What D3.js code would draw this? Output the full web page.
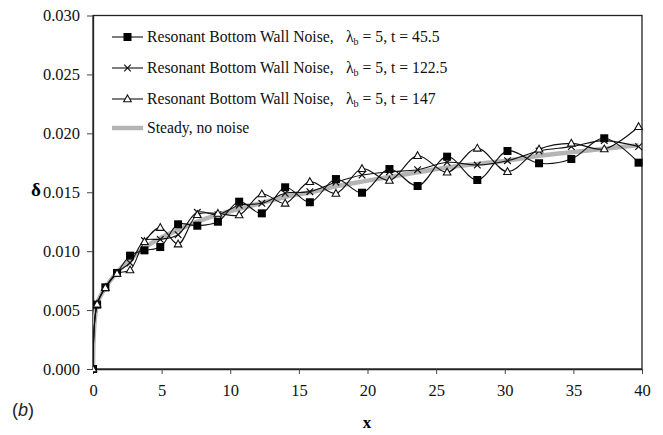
<!DOCTYPE html>
<html><head><meta charset="utf-8">
<script src="https://cdn.jsdelivr.net/npm/d3@7"></script>
<style>body{margin:0;background:#fff}svg{display:block}</style>
</head><body><svg id="c" width="663" height="435"></svg>
<script>
const xs = [0,0.3,0.9,1.75,2.7,3.75,4.9,6.2,7.6,9.1,10.65,12.3,14.0,15.8,17.7,19.6,21.6,23.65,25.8,28.0,30.2,32.5,34.85,37.25,39.75];
const t455 = [0,0.00546,0.00693,0.00815,0.00962,0.01007,0.01035,0.01228,0.01216,0.0125,0.0142,0.01321,0.01542,0.01415,0.01612,0.01496,0.01697,0.01553,0.01802,0.01604,0.0185,0.01746,0.01782,0.01958,0.01751];
const t1225 = [0,0.0055,0.0069,0.0082,0.0090,0.0109,0.0110,0.0114,0.0133,0.0131,0.0139,0.01406,0.01491,0.01505,0.01585,0.01646,0.01674,0.01691,0.01754,0.01731,0.01768,0.0185,0.01887,0.01938,0.01887];
const t147 = [0,0.0055,0.0069,0.0081,0.0084,0.0108,0.0120,0.0106,0.0131,0.0132,0.01307,0.01485,0.01406,0.0159,0.0149,0.0170,0.0160,0.0181,0.0167,0.01873,0.01674,0.01865,0.01915,0.01867,0.02056];
const steady = [0,0.0055,0.0069,0.0082,0.0093,0.0103,0.0111,0.0118,0.0125,0.0131,0.0136,0.0141,0.0146,0.0150,0.0155,0.0159,0.0163,0.0167,0.0171,0.0174,0.0177,0.0181,0.0184,0.0187,0.0190];
const xTicks = [0,5,10,15,20,25,30,35,40];
const yTicks = [0,0.005,0.010,0.015,0.020,0.025,0.030];
const legendNames = ["Resonant Bottom Wall Noise,","Resonant Bottom Wall Noise,","Resonant Bottom Wall Noise,","Steady, no noise"];
const legendTimes = ["45.5","122.5","147"];

const svg = d3.select("#c");
const L=93,R=642,T=15.5,B=369;
const x = d3.scaleLinear().domain([0,40]).range([L,R]);
const y = d3.scaleLinear().domain([0,0.03]).range([B,T]);
const serif = "Liberation Serif, Times New Roman, serif";

svg.append("rect").attr("x",L).attr("y",T).attr("width",R-L).attr("height",B-T)
  .attr("fill","none").attr("stroke","#222").attr("stroke-width",1.3);

const xa = svg.append("g").attr("transform",`translate(0,${B})`)
  .call(d3.axisBottom(x).tickValues(xTicks).tickSize(5).tickSizeOuter(0).tickPadding(10).tickFormat(d3.format("d")));
const ya = svg.append("g").attr("transform",`translate(${L},0)`)
  .call(d3.axisLeft(y).tickValues(yTicks).tickSize(6).tickSizeOuter(0).tickPadding(7).tickFormat(d3.format(".3f")));
[xa,ya].forEach(a=>{
  a.attr("font-family",serif).attr("font-size",16.5);
  a.selectAll("path").attr("stroke","#222").attr("stroke-width",1.3);
  a.selectAll("line").attr("stroke","#444");
  a.selectAll("text").style("font-family",serif).attr("font-size",16.5).attr("fill","#111");
});

svg.append("clipPath").attr("id","cp").append("rect").attr("x",L).attr("y",T-5).attr("width",R-L+4).attr("height",B-T+10);
const g = svg.append("g").attr("clip-path","url(#cp)");

const pts = arr => xs.map((v,i)=>[v,arr[i]]);
const smooth = d3.line().x(d=>x(d[0])).y(d=>y(d[1])).curve(d3.curveCatmullRom.alpha(0.5));

g.append("path").attr("d",smooth(pts(steady))).attr("fill","none").attr("stroke","#b4b4b4").attr("stroke-width",4.5);

const series=[t455,t1225,t147];
series.forEach(s=>{
  g.append("path").attr("d",smooth(pts(s))).attr("fill","none").attr("stroke","#111").attr("stroke-width",1.1);
});

function marker(sel, type, cx, cy){
  if(type===0){
    sel.append("rect").attr("x",cx-4).attr("y",cy-4).attr("width",8).attr("height",8).attr("fill","#000");
  } else if(type===1){
    sel.append("path").attr("d",`M${cx-3.3},${cy-3.3}L${cx+3.3},${cy+3.3}M${cx-3.3},${cy+3.3}L${cx+3.3},${cy-3.3}`).attr("stroke","#111").attr("stroke-width",1.2);
  } else {
    sel.append("path").attr("d",`M${cx},${cy-4}L${cx+3.8},${cy+2.8}L${cx-3.8},${cy+2.8}Z`).attr("fill","#fff").attr("stroke","#111").attr("stroke-width",1.1);
  }
}
series.forEach((s,k)=>{
  pts(s).forEach(d=>marker(g,k,x(d[0]),y(d[1])));
});

const ly=[37,68,99,128];
legendNames.forEach((n,i)=>{
  const lg = svg.append("g");
  if(i<3){
    lg.append("line").attr("x1",112).attr("x2",143).attr("y1",ly[i]).attr("y2",ly[i]).attr("stroke","#111").attr("stroke-width",1.1);
    marker(lg,i,127.5,ly[i]);
  } else {
    lg.append("line").attr("x1",112).attr("x2",143).attr("y1",ly[i]).attr("y2",ly[i]).attr("stroke","#b4b4b4").attr("stroke-width",4.5);
  }
  lg.append("text").attr("x",147).attr("y",ly[i]+5).style("font-family",serif).attr("font-size",15.7).attr("fill","#111").text(n);
  if(i<3){
    const t = lg.append("text").attr("x",346).attr("y",ly[i]+5).style("font-family",serif).attr("font-size",15.7).attr("fill","#111");
    t.append("tspan").text("λ");
    t.append("tspan").attr("font-size",10).attr("dy",3).text("b");
    t.append("tspan").attr("dy",-3).text(" = 5, t = "+legendTimes[i]);
  }
});

svg.append("text").attr("x",367).attr("y",428).attr("text-anchor","middle").style("font-family",serif).attr("font-weight","bold").attr("font-size",17).text("x");
svg.append("text").attr("x",36).attr("y",196).attr("text-anchor","middle").style("font-family",serif).attr("font-weight","bold").attr("font-size",19).text("δ");
const pb = svg.append("text").attr("x",12).attr("y",416).style("font-family","Liberation Sans, Arial, sans-serif").attr("font-size",18).attr("fill","#222");
pb.append("tspan").text("(");
pb.append("tspan").attr("font-style","italic").text("b");
pb.append("tspan").text(")");
</script></body></html>
